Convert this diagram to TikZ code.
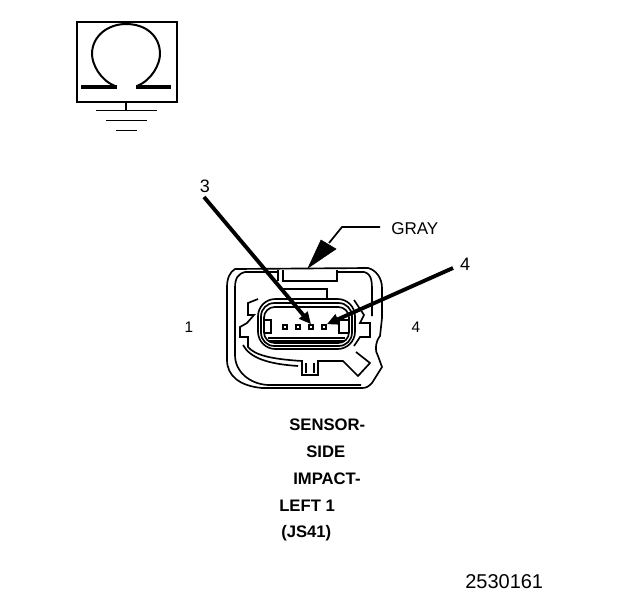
\documentclass[tikz,border=0pt]{standalone}
\usepackage{fontspec}
\setmainfont{Liberation Sans}
\usetikzlibrary{arrows.meta}
\tikzset{
  lbl/.style={inner sep=0pt,font=\fontsize{12.8}{14}\selectfont},
  boldlbl/.style={inner sep=0pt,anchor=west,font=\fontsize{12.5}{14}\bfseries\selectfont},
  leader/.style={line width=2.9pt,-{Triangle[length=9pt,width=8pt]}},
  gnd/.style={line width=1.3pt},
  wall/.style={line width=1.25pt},
  pin/.style={draw,line width=1.2pt,minimum size=3pt,inner sep=0pt}
}
\begin{document}
\begin{tikzpicture}[x=0.75pt,y=-0.75pt]
\useasboundingbox (0,0) rectangle (624,600);
\node[draw,line width=1.4pt,minimum width=75pt,minimum height=60pt,inner sep=0pt,anchor=north west] (omegabox) at (76,21) {};
\draw[line width=1.5pt] (115,86) .. controls (100,80) and (92,64) .. (92,54) .. controls (92,36) and (108,24) .. (126,24) .. controls (146,24) and (160,36) .. (160,54) .. controls (160,64) and (152,80) .. (137,86);
\draw[line width=2.4pt] (81,87) -- (117,87);
\draw[line width=2.4pt] (136,87) -- (171,87);
\coordinate (gndtop) at (126,110.5);
\draw[gnd] (omegabox.south -| gndtop) -- (gndtop);
\draw[gnd] (96,110.5) -- (157,110.5);
\draw[gnd] (106,120.5) -- (147,120.5);
\draw[gnd] (116,130.5) -- (137,130.5);
% connector body
\draw[wall] (235,269) -- (368,268) .. controls (376,270) and (382,278) .. (382,288) -- (382,318) -- (380,336) .. controls (375,342) and (375,352) .. (378,356) -- (382,367) -- (372,383) .. controls (368,387) and (366,388) .. (362,388) -- (262,388) .. controls (240,386) and (227,376) .. (227,360) -- (227,287) .. controls (227,278) and (230,272) .. (235,269);
\draw[wall] (245,272) .. controls (238,274) and (235,278) .. (235,288) -- (235,355) .. controls (235,372) and (250,384) .. (268,385) -- (361,385);
\draw[wall] (245,272) -- (278,272);
\draw[wall] (337,272) -- (364,272) .. controls (372,274) and (372,282) .. (372,292) -- (372,316);
\draw[wall] (278,270) -- (278,281);
\draw[wall] (283,270) -- (283,281) -- (337,281) -- (337,270);
\draw[wall] (283,289) -- (327,289) -- (327,298);
% latch
\draw[wall] (258,299) -- (248,303) -- (248,315) -- (254,315) -- (247,323) -- (240,327) -- (240,337) -- (248,337) -- (248,347) .. controls (255,355) and (270,359) .. (302,361) -- (302,375) -- (318,375) -- (318,361) -- (343,361) -- (358,376) -- (370,363) -- (356,352);
\draw[wall] (306,363) -- (306,373);
\draw[wall] (314,363) -- (314,373);
\draw[wall] (354,300) -- (364,315) -- (360,323) -- (370,323) -- (370,337) -- (360,337) -- (354,346);
\draw[wall] (243,345) .. controls (250,358) and (268,364) .. (298,366);
% shell
\draw[wall,rounded corners=13pt] (258,299) rectangle (355,349);
\draw[wall,rounded corners=10pt] (261,303) rectangle (352,346);
\draw[wall,rounded corners=8pt] (264,307) rectangle (349,343);
\draw[wall] (268,338) -- (345,338);
\draw[wall] (268,341) -- (345,341);
\draw[wall] (264,320) -- (271,320) -- (271,333) -- (264,333);
\draw[wall] (349,320) -- (339,320) -- (339,333) -- (349,333);
% pins
\node[pin] (pina) at (285,327) {};
\node[pin] (pinb) at (298,327) {};
\node[pin] (pinc) at (311,327) {};
\node[pin] (pind) at (324,327) {};
% labels and leaders
\node[lbl,font=\fontsize{13.5}{14}\selectfont] (three) at (205,186) {3};
\node[lbl,font=\fontsize{13.5}{14}\selectfont] (four) at (465,264) {4};
\node[lbl,font=\fontsize{11.5}{14}\selectfont] (pinone) at (189,327) {1};
\node[lbl,font=\fontsize{11.5}{14}\selectfont] (pinfour) at (416,327) {4};
\coordinate (threetail) at (204,197);
\coordinate (fourtail) at (453,268);
\draw[leader] (threetail) -- (pinc.north);
\draw[leader] (fourtail) -- (pind.north east);
\node[lbl,anchor=west] (gray) at (391,229) {GRAY};
\coordinate (grayknee) at (342,227);
\coordinate (graytip) at (308,268);
\draw[line width=1.3pt] (380,227) -- (grayknee) -- (329,243);
\draw[fill=black] (graytip) -- (321,240) -- (336,249) -- cycle;
\node[boldlbl] (sensor) at (289,425) {SENSOR-};
\node[boldlbl] (side) at (306,452) {SIDE};
\node[boldlbl] (impact) at (293,479) {IMPACT-};
\node[boldlbl] (leftone) at (279,506) {LEFT 1};
\node[boldlbl] (js) at (281,533) {(JS41)};
\node[lbl,anchor=west,font=\fontsize{15}{16}\selectfont] (figno) at (465,582) {2530161};
\end{tikzpicture}
\end{document}
